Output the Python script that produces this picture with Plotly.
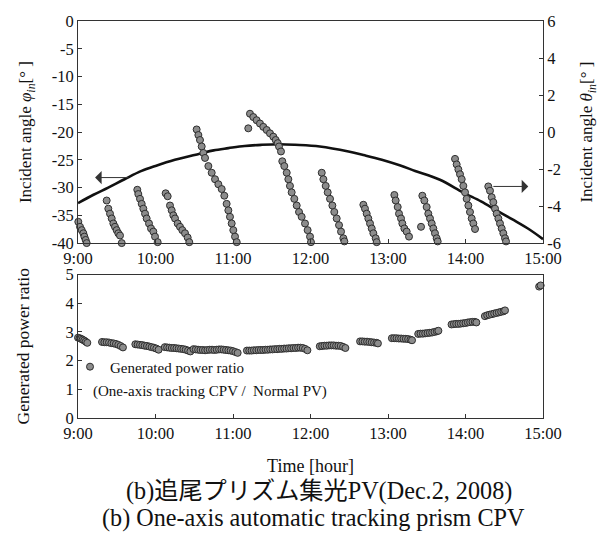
import plotly.graph_objects as go

# ---------------- data ----------------
hour_ticks = [9, 10, 11, 12, 13, 14, 15]
hour_labels = ["9:00", "10:00", "11:00", "12:00", "13:00", "14:00", "15:00"]
phi_ticks = [0, -5, -10, -15, -20, -25, -30, -35, -40]
phi_labels = ["0", "-5", "-10", "-15", "-20", "-25", "-30", "-35", "-40"]
theta_ticks = [6, 4, 2, 0, -2, -4, -6]
theta_labels = ["6", "4", "2", "0", "-2", "-4", "-6"]
ratio_ticks = [0, 1, 2, 3, 4, 5]

# incident angle phi_in (left axis, solid curve)
phi_time = [9.00, 9.20, 9.39, 9.60, 9.82, 10.00, 10.25, 10.57, 10.75, 10.94, 11.15, 11.37,
            11.60, 11.80, 12.12, 12.49, 12.70, 12.92, 13.15, 13.35, 13.67, 13.97, 14.20,
            14.40, 14.60, 14.83, 15.00]
phi_deg = [-32.8, -31.3, -30.0, -28.5, -27.0, -26.1, -25.0, -23.9, -23.3, -22.9, -22.5, -22.3,
           -22.2, -22.3, -22.6, -23.5, -24.2, -25.0, -26.0, -27.0, -28.6, -30.9, -32.5,
           -34.1, -35.7, -37.6, -39.3]

# incident angle theta_in (right axis, dots)
theta_time = [
    9.004, 9.026, 9.048, 9.069, 9.082, 9.099, 9.112,
    9.370, 9.391, 9.413, 9.435, 9.456, 9.477, 9.499, 9.520, 9.542, 9.564,
    9.765, 9.778, 9.800, 9.822, 9.843, 9.865, 9.886, 9.916, 9.942, 9.972, 9.994, 10.028,
    10.131, 10.157, 10.187, 10.209, 10.230, 10.252, 10.286, 10.316, 10.346, 10.381, 10.415, 10.436,
    10.531, 10.553, 10.574, 10.596, 10.617, 10.639, 10.682, 10.725, 10.768, 10.811, 10.854,
    10.888, 10.918, 10.940, 10.961, 10.983, 11.004, 11.026, 11.048,
    11.197, 11.219, 11.262, 11.305, 11.348, 11.391, 11.435, 11.477, 11.520, 11.551, 11.577,
    11.594, 11.619,
    11.636, 11.662, 11.693, 11.714, 11.735, 11.757, 11.791, 11.822, 11.852, 11.886, 11.929,
    11.963, 11.994, 12.006,
    12.145, 12.166, 12.196, 12.222, 12.252, 12.282, 12.307, 12.338, 12.368, 12.394, 12.424, 12.437,
    12.682, 12.703, 12.725, 12.746, 12.768, 12.790, 12.811, 12.841, 12.854,
    13.082, 13.099, 13.125, 13.142, 13.168, 13.185, 13.211, 13.241, 13.271, 13.426,
    13.443, 13.469, 13.499, 13.520, 13.542, 13.564, 13.585, 13.606, 13.628, 13.641,
    13.865, 13.886, 13.908, 13.929, 13.951, 13.972, 13.994, 14.015, 14.037, 14.058, 14.080,
    14.101, 14.123,
    14.294, 14.316, 14.338, 14.359, 14.381, 14.402, 14.424, 14.445, 14.467, 14.488, 14.510, 14.523,
]
theta_deg = [
    -4.85, -5.12, -5.30, -5.47, -5.65, -5.83, -6.00,
    -3.70, -4.14, -4.41, -4.67, -4.94, -5.12, -5.30, -5.47, -5.59, -6.00,
    -3.12, -3.35, -3.61, -3.88, -4.14, -4.41, -4.67, -4.94, -5.21, -5.38, -5.65, -5.95,
    -3.31, -3.47, -3.97, -4.23, -4.50, -4.67, -4.94, -5.12, -5.30, -5.47, -5.70, -5.95,
    0.14, -0.16, -0.43, -0.78, -1.13, -1.40, -1.84, -2.20, -2.55, -2.82, -3.08,
    -3.44, -3.88, -4.23, -4.58, -4.94, -5.30, -5.65, -5.95,
    0.20, 0.99, 0.81, 0.64, 0.46, 0.28, 0.11, -0.07, -0.25, -0.43, -0.60,
    -0.78, -1.05,
    -1.58, -1.84, -2.20, -2.55, -2.91, -3.26, -3.61, -3.97, -4.32, -4.58, -4.94,
    -5.30, -5.65, -5.95,
    -2.20, -2.55, -2.91, -3.26, -3.61, -3.97, -4.32, -4.67, -5.03, -5.38, -5.74, -5.91,
    -3.93, -4.14, -4.41, -4.67, -4.94, -5.21, -5.47, -5.74, -5.95,
    -3.40, -3.70, -4.05, -4.41, -4.67, -4.94, -5.21, -5.38, -5.65, -5.12,
    -3.44, -3.70, -4.05, -4.41, -4.67, -4.94, -5.21, -5.47, -5.74, -5.91,
    -1.45, -1.75, -2.02, -2.28, -2.55, -2.91, -3.26, -3.61, -3.97, -4.32, -4.67,
    -4.94, -5.24,
    -2.94, -3.17, -3.52, -3.79, -4.14, -4.41, -4.67, -4.94, -5.21, -5.47, -5.74, -5.91,
]

# generated power ratio (one-axis tracking CPV / normal PV)
ratio_time = [
    9.00, 9.02, 9.04, 9.06, 9.08, 9.10, 9.12,
    9.31, 9.34, 9.37, 9.40, 9.43, 9.46, 9.49, 9.52, 9.55, 9.58,
    9.74, 9.77, 9.80, 9.83, 9.86, 9.89, 9.92, 9.95, 9.98, 10.01, 10.04,
    10.12, 10.15, 10.18, 10.21, 10.24, 10.27, 10.30, 10.33, 10.36, 10.39, 10.42, 10.45,
    10.49, 10.52, 10.55, 10.58, 10.61, 10.64, 10.67, 10.70, 10.73, 10.76, 10.79, 10.82,
    10.85, 10.88, 10.91, 10.94, 10.97, 11.00, 11.03, 11.06,
    11.18, 11.21, 11.24, 11.27, 11.30, 11.33, 11.36, 11.39, 11.42, 11.45, 11.48, 11.51,
    11.54, 11.57, 11.60, 11.63, 11.66, 11.69, 11.72, 11.75, 11.78, 11.81, 11.84, 11.87,
    11.90, 11.93, 11.96,
    12.12, 12.15, 12.18, 12.21, 12.24, 12.27, 12.30, 12.33, 12.36, 12.39, 12.42, 12.45,
    12.64, 12.67, 12.70, 12.73, 12.76, 12.79, 12.82, 12.85, 12.87,
    13.05, 13.08, 13.11, 13.14, 13.17, 13.20, 13.23, 13.26, 13.29, 13.31,
    13.39, 13.42, 13.45, 13.48, 13.51, 13.54, 13.57, 13.60, 13.63, 13.65,
    13.82, 13.85, 13.88, 13.91, 13.94, 13.97, 14.00, 14.03, 14.06, 14.09, 14.12, 14.14,
    14.25, 14.28, 14.31, 14.34, 14.37, 14.40, 14.43, 14.46, 14.49, 14.51,
    14.95, 14.97,
]
ratio_val = [
    2.80, 2.78, 2.76, 2.73, 2.70, 2.66, 2.62,
    2.65, 2.64, 2.64, 2.63, 2.61, 2.60, 2.58, 2.55, 2.51, 2.46,
    2.57, 2.56, 2.55, 2.54, 2.52, 2.51, 2.49, 2.47, 2.45, 2.42, 2.38,
    2.47, 2.46, 2.45, 2.44, 2.44, 2.43, 2.42, 2.41, 2.40, 2.38, 2.35, 2.32,
    2.40, 2.39, 2.38, 2.37, 2.37, 2.36, 2.37, 2.38, 2.38, 2.37, 2.38, 2.39,
    2.39, 2.38, 2.37, 2.36, 2.35, 2.33, 2.30, 2.27,
    2.35, 2.35, 2.35, 2.36, 2.36, 2.37, 2.37, 2.37, 2.38, 2.38, 2.39, 2.39,
    2.40, 2.40, 2.41, 2.41, 2.42, 2.42, 2.43, 2.43, 2.44, 2.44, 2.45, 2.45,
    2.44, 2.41, 2.36,
    2.50, 2.51, 2.52, 2.52, 2.53, 2.53, 2.53, 2.52, 2.52, 2.51, 2.48, 2.44,
    2.67, 2.67, 2.66, 2.66, 2.65, 2.64, 2.63, 2.62, 2.60,
    2.78, 2.78, 2.78, 2.77, 2.77, 2.76, 2.76, 2.75, 2.73, 2.71,
    2.93, 2.94, 2.94, 2.95, 2.96, 2.97, 2.98, 3.00, 3.02, 3.04,
    3.26, 3.27, 3.28, 3.28, 3.29, 3.30, 3.31, 3.33, 3.34, 3.35, 3.35, 3.33,
    3.55, 3.58, 3.60, 3.62, 3.64, 3.66, 3.68, 3.70, 3.72, 3.75,
    4.58, 4.62,
]

# arrow anchors: [tail, head]
phi_arrow_time = [9.67, 9.22]
phi_arrow_deg = -28.2
theta_arrow_time = [14.34, 14.81]
theta_arrow_deg = -2.94

# ---------------- style ----------------
SERIF = "Liberation Serif, Times New Roman, Noto Sans CJK JP, serif"
AX = "#333333"
dot = dict(size=7, color="#8c8c8c", line=dict(color="#2e2e2e", width=1))

fig = go.Figure()

fig.add_trace(go.Scatter(x=phi_time, y=phi_deg, mode="lines", line=dict(color="#111", width=2.6, shape="spline"),
                         xaxis="x", yaxis="y", showlegend=False, hoverinfo="skip"))
fig.add_trace(go.Scatter(x=theta_time, y=theta_deg, mode="markers", marker=dot, cliponaxis=False,
                         xaxis="x", yaxis="y2", showlegend=False))
fig.add_trace(go.Scatter(x=ratio_time, y=ratio_val, mode="markers", marker=dot, cliponaxis=False,
                         xaxis="x2", yaxis="y3", name="Generated power ratio", showlegend=True))

W, H = 607, 533
ml, mr, mt, mb = 78, 64, 14, 115
ph = H - mt - mb
bot_top, bot_bottom = 272, H - mb   # pixel rows of the lower panel
def py(px):
    return (H - mb - px) / ph
def pxx(px):
    return (px - ml) / (W - ml - mr)
def ratio_row(v):
    return bot_bottom - v * (bot_bottom - bot_top) / 5.0

tickfont = dict(family=SERIF, size=16.5, color="#111")
common_x = dict(range=[9, 15], tickmode="array", tickvals=hour_ticks, ticktext=hour_labels,
                ticks="inside", ticklen=4, tickcolor=AX, showline=True, linecolor=AX, linewidth=1,
                mirror=True, showgrid=False, zeroline=False, tickfont=tickfont)
common_y = dict(ticks="inside", ticklen=4, tickcolor=AX, showline=True, linecolor=AX, linewidth=1,
                showgrid=False, zeroline=False, tickfont=tickfont, tickmode="array")

fig.update_layout(
    width=W, height=H, margin=dict(l=ml, r=mr, t=mt, b=mb),
    paper_bgcolor="white", plot_bgcolor="white",
    font=dict(family=SERIF, color="#111"),
    xaxis=dict(domain=[0, 1], anchor="y", **common_x),
    yaxis=dict(domain=[py(240), 1], anchor="x", range=[-40, 0], tickvals=phi_ticks, ticktext=phi_labels,
               **common_y,
               title=dict(text="Incident angle <i>φ</i><sub><i>in</i></sub>[° ]",
                          font=dict(family=SERIF, size=17), standoff=15)),
    yaxis2=dict(overlaying="y", side="right", anchor="x", range=[-6, 6], tickvals=theta_ticks,
                ticktext=theta_labels, **common_y,
                title=dict(text="Incident angle <i>θ</i><sub><i>in</i></sub>[° ]",
                           font=dict(family=SERIF, size=17), standoff=20)),
    xaxis2=dict(domain=[0, 1], anchor="y3", **common_x,
                title=dict(text="Time [hour]", font=dict(family=SERIF, size=18), standoff=17)),
    yaxis3=dict(domain=[0, py(bot_top)], anchor="x2", range=[0, 5], tickvals=ratio_ticks, mirror=True,
                **common_y,
                title=dict(text="Generated power ratio", font=dict(family=SERIF, size=17.5), standoff=31)),
    legend=dict(x=pxx(70), y=py(ratio_row(1.78)), xanchor="left", yanchor="middle", bgcolor="rgba(0,0,0,0)",
                font=dict(family=SERIF, size=15), itemwidth=30, tracegroupgap=0),
)

annotations = [
    dict(x=phi_arrow_time[1], y=phi_arrow_deg, ax=phi_arrow_time[0], ay=phi_arrow_deg,
         xref="x", yref="y", axref="x", ayref="y", text="", showarrow=True,
         arrowhead=1, arrowsize=2.2, arrowwidth=1, arrowcolor="#333"),
    dict(x=theta_arrow_time[1], y=theta_arrow_deg, ax=theta_arrow_time[0], ay=theta_arrow_deg,
         xref="x", yref="y2", axref="x", ayref="y2", text="", showarrow=True,
         arrowhead=1, arrowsize=2.2, arrowwidth=1, arrowcolor="#333"),
    dict(x=pxx(91), y=py(ratio_row(0.92)), xref="paper", yref="paper", xanchor="left", yanchor="middle",
         text="(One-axis tracking CPV /  Normal PV)", showarrow=False,
         font=dict(family=SERIF, size=15, color="#111")),
    dict(x=pxx(319), y=py(492), xref="paper", yref="paper", xanchor="center", yanchor="middle",
         text="(b)追尾プリズム集光PV(Dec.2, 2008)", showarrow=False,
         font=dict(family=SERIF, size=24.2, color="#111")),
    dict(x=pxx(313), y=py(520), xref="paper", yref="paper", xanchor="center", yanchor="middle",
         text="(b) One-axis automatic tracking prism CPV", showarrow=False,
         font=dict(family=SERIF, size=24.2, color="#111")),
]
fig.update_layout(annotations=annotations)

fig.write_html("out.html")
